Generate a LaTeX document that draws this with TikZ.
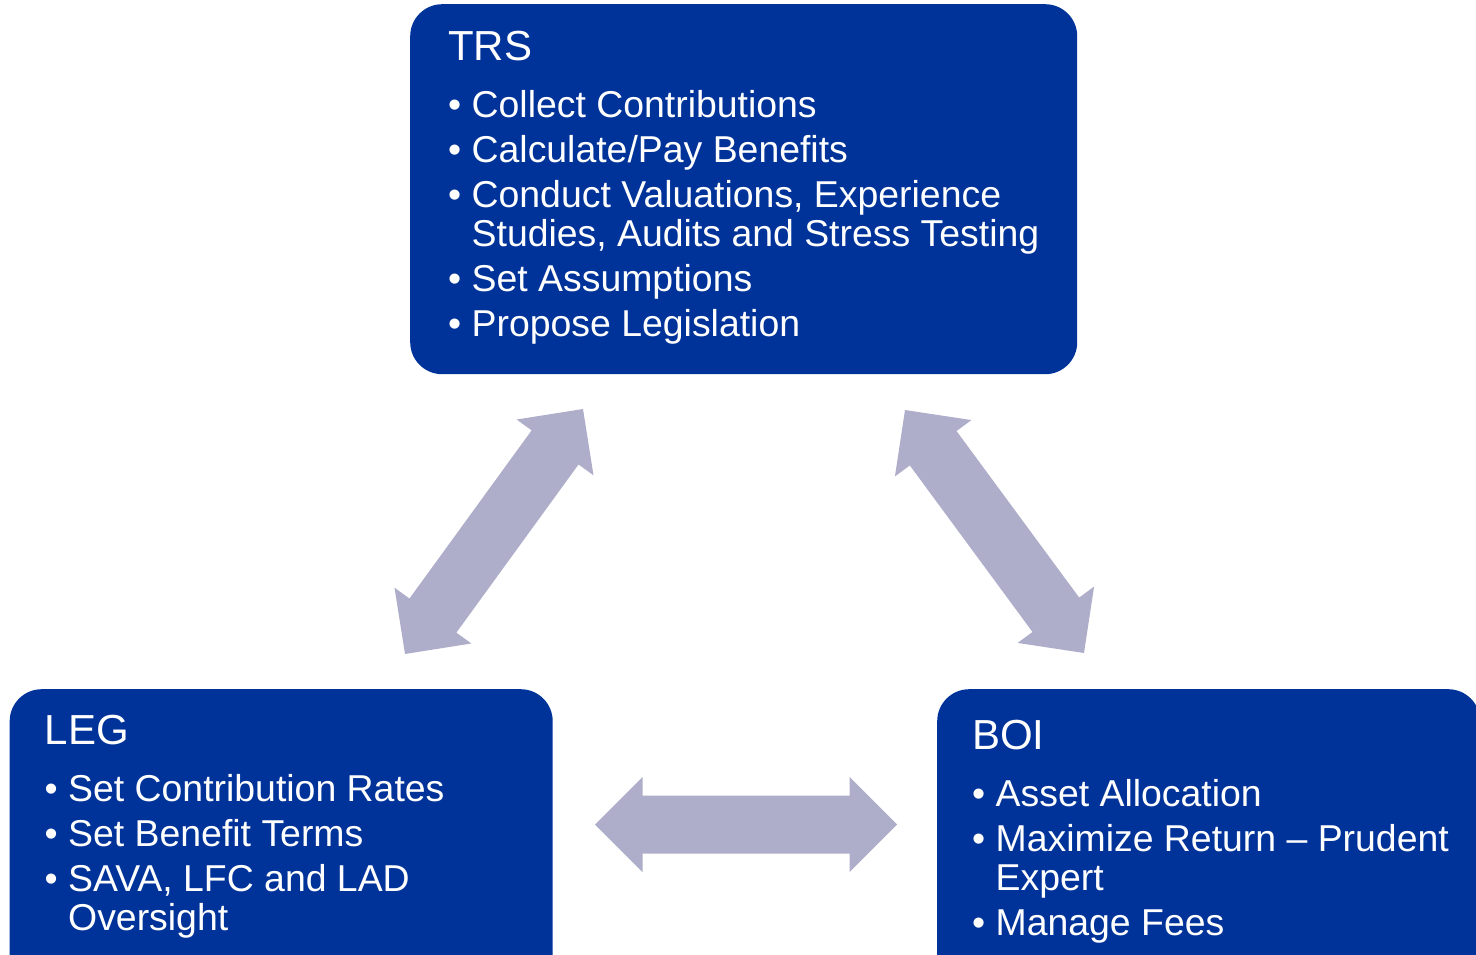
\documentclass[tikz,border=0pt]{standalone}
\usepackage{fontspec}
\setmainfont{Liberation Sans}
\usetikzlibrary{calc}
\definecolor{boxblue}{RGB}{0,51,153}
\definecolor{arrowfill}{RGB}{174,174,202}
\tikzset{
  bluebox/.style={fill=boxblue, rounded corners=32pt, anchor=north west, inner sep=0pt},
  boxtext/.style={text=white, align=left, anchor=north west, inner sep=0pt,
    font=\fontsize{37.4}{39}\selectfont},
}
\newcommand{\headsize}{47.5pt}
\newcommand{\shafthalf}{29pt}
\newcommand{\bul}{\textbullet\ }
\newcommand{\nobul}{\phantom{\textbullet\ }}
\newcommand{\boxtitle}[1]{{\fontsize{42}{42}\selectfont #1}}
% double block arrow between two named tips
\newcommand{\blockarrow}[2]{%
  \fill[arrowfill] (#1)
    -- ($(#1)!\headsize!(#2)!\headsize!90:(#2)$)
    -- ($(#1)!\headsize!(#2)!\shafthalf!90:(#2)$)
    -- ($(#2)!\headsize!(#1)!\shafthalf!-90:(#1)$)
    -- ($(#2)!\headsize!(#1)!\headsize!-90:(#1)$)
    -- (#2)
    -- ($(#2)!\headsize!(#1)!\headsize!90:(#1)$)
    -- ($(#2)!\headsize!(#1)!\shafthalf!90:(#1)$)
    -- ($(#1)!\headsize!(#2)!\shafthalf!-90:(#2)$)
    -- ($(#1)!\headsize!(#2)!\headsize!-90:(#2)$)
    -- cycle;}

\begin{document}
\begin{tikzpicture}[x=1pt,y=-1pt]
    \useasboundingbox (0,0) rectangle (1476,955);
    \clip (0,0) rectangle (1476,955);
    \node[bluebox, minimum width=667, minimum height=370] (trs) at (410,4) {};
    \node[bluebox, minimum width=543, minimum height=300] (leg) at (9.5,689) {};
    \node[bluebox, minimum width=543, minimum height=300] (boi) at (937,689) {};
    \node[boxtext] (trstext) at (448,31) {\boxtitle{TRS}\\[18pt]
      \bul Collect Contributions\\[6pt]
      \bul Calculate/Pay Benefits\\[6pt]
      \bul Conduct Valuations, Experience\\
      \nobul Studies, Audits and Stress Testing\\[6pt]
      \bul Set Assumptions\\[6pt]
      \bul Propose Legislation};
    \node[boxtext] (legtext) at (44.5,714.5) {\boxtitle{LEG}\\[18pt]
      \bul Set Contribution Rates\\[6pt]
      \bul Set Benefit Terms\\[6pt]
      \bul SAVA, LFC and LAD\\
      \nobul Oversight};
    \node[boxtext] (boitext) at (972,720) {\boxtitle{BOI}\\[18pt]
      \bul Asset Allocation\\[6pt]
      \bul Maximize Return -- Prudent\\
      \nobul Expert\\[6pt]
      \bul Manage Fees};
    \coordinate (trsleg) at (583,409);
    \coordinate (legtrs) at (405,654);
    \coordinate (trsboi) at (905,410);
    \coordinate (boitrs) at (1084,653);
    \coordinate (legboi) at (595,824.5);
    \coordinate (boileg) at (897,824.5);
    \blockarrow{legtrs}{trsleg}
    \blockarrow{trsboi}{boitrs}
    \blockarrow{legboi}{boileg}
\end{tikzpicture}
\end{document}
